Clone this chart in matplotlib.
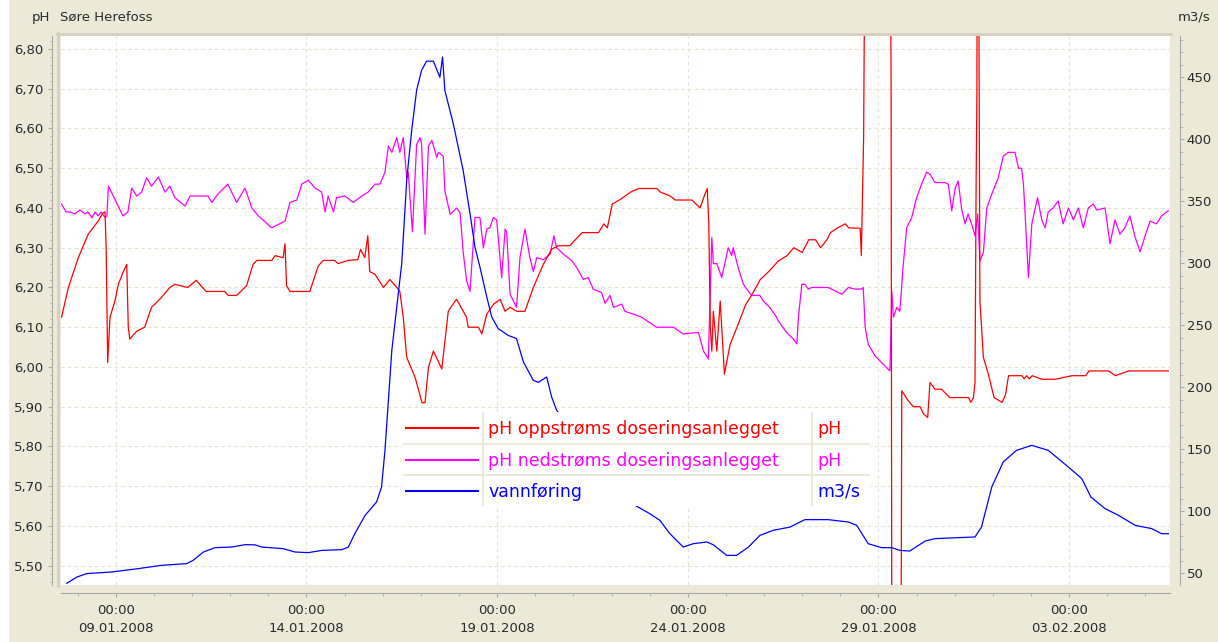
import numpy as np
import pandas as pd
import matplotlib
matplotlib.use('Agg')
import matplotlib.pyplot as plt
import matplotlib.dates as mdates
from matplotlib.ticker import MultipleLocator, FixedLocator, FuncFormatter
from matplotlib.lines import Line2D
from matplotlib.patches import Rectangle

# time axis: days since 09.01.2008 00:00
t0 = pd.Timestamp('2008-01-09 00:00')

# pH oppstrøms doseringsanlegget (left axis, values outside the range are clipped)
opp_day = [-1.42, -1.24, -0.98, -0.72, -0.46, -0.33, -0.28, -0.25, -0.21, -0.15,
           -0.02, 0.07, 0.20, 0.29, 0.33, 0.37, 0.55, 0.76, 0.94, 1.11,
           1.20, 1.42, 1.55, 1.89, 2.11, 2.37, 2.86, 2.95, 3.17, 3.43,
           3.60, 3.70, 4.09, 4.18, 4.39, 4.44, 4.48, 4.57, 5.09, 5.31,
           5.44, 5.74, 5.83, 6.09, 6.35, 6.42, 6.53, 6.61, 6.66, 6.80,
           7.02, 7.19, 7.37, 7.45, 7.54, 7.63, 7.85, 8.03, 8.11, 8.20,
           8.33, 8.55, 8.72, 8.90, 8.94, 9.20, 9.24, 9.51, 9.60, 9.73,
           9.91, 10.08, 10.21, 10.34, 10.52, 10.73, 10.95, 11.21, 11.43, 11.60,
           11.91, 12.05, 12.23, 12.66, 12.80, 12.89, 13.02, 13.24, 13.50, 13.71,
           14.19, 14.28, 14.54, 14.67, 15.11, 15.32, 15.45, 15.51, 15.55, 15.59,
           15.63, 15.67, 15.76, 15.85, 15.89, 15.96, 16.11, 16.29, 16.51, 16.73,
           16.90, 17.12, 17.38, 17.60, 17.78, 18.00, 18.17, 18.35, 18.48, 18.65,
           18.74, 18.91, 19.13, 19.22, 19.52, 19.55, 19.61, 19.65, 20.30, 20.33,
           20.35, 20.59, 20.61, 20.78, 20.91, 21.09, 21.18, 21.29, 21.35, 21.48,
           21.65, 21.87, 22.36, 22.42, 22.49, 22.53, 22.56, 22.58, 22.59, 22.62,
           22.66, 22.75, 22.88, 23.03, 23.24, 23.33, 23.41, 23.76, 23.82, 23.88,
           23.95, 24.03, 24.29, 24.63, 25.07, 25.43, 25.52, 26.04, 26.21, 26.56,
           27.60]
opp_ph = [6.125, 6.20, 6.275, 6.334, 6.367, 6.388, 6.39, 6.30, 6.011, 6.125,
          6.166, 6.208, 6.24, 6.258, 6.10, 6.07, 6.09, 6.10, 6.15, 6.166,
          6.175, 6.20, 6.208, 6.20, 6.218, 6.19, 6.19, 6.18, 6.18, 6.204,
          6.258, 6.268, 6.268, 6.28, 6.275, 6.31, 6.204, 6.19, 6.19, 6.254,
          6.268, 6.268, 6.26, 6.268, 6.27, 6.296, 6.275, 6.33, 6.24, 6.233,
          6.20, 6.22, 6.20, 6.19, 6.125, 6.024, 5.974, 5.91, 5.91, 5.999,
          6.04, 5.995, 6.14, 6.166, 6.17, 6.125, 6.10, 6.10, 6.083, 6.133,
          6.158, 6.17, 6.14, 6.15, 6.14, 6.14, 6.20, 6.258, 6.296, 6.305,
          6.305, 6.32, 6.338, 6.338, 6.36, 6.35, 6.41, 6.422, 6.44, 6.449,
          6.449, 6.44, 6.43, 6.42, 6.42, 6.40, 6.435, 6.449, 6.363, 6.10,
          6.04, 6.14, 6.04, 6.166, 6.10, 5.982, 6.057, 6.10, 6.155, 6.19,
          6.22, 6.24, 6.267, 6.28, 6.30, 6.288, 6.32, 6.32, 6.30, 6.32,
          6.338, 6.349, 6.36, 6.35, 6.349, 6.28, 6.577, 7.20, 7.20, 6.73,
          5.20, 5.20, 5.94, 5.915, 5.90, 5.90, 5.882, 5.873, 5.961, 5.944,
          5.944, 5.923, 5.923, 5.911, 5.923, 5.961, 6.468, 6.686, 7.20, 7.20,
          6.166, 6.024, 5.982, 5.923, 5.911, 5.93, 5.978, 5.978, 5.97, 5.978,
          5.97, 5.978, 5.969, 5.969, 5.978, 5.978, 5.99, 5.99, 5.978, 5.99,
          5.99]

# pH nedstrøms doseringsanlegget (left axis)
ned_day = [-1.42, -1.30, -1.20, -1.07, -0.94, -0.80, -0.73, -0.62, -0.54, -0.46,
           -0.39, -0.28, -0.23, -0.19, 0.19, 0.32, 0.42, 0.55, 0.68, 0.81,
           0.94, 1.12, 1.29, 1.42, 1.55, 1.82, 1.95, 2.42, 2.52, 2.68,
           2.94, 3.17, 3.39, 3.57, 3.74, 3.86, 4.09, 4.44, 4.57, 4.75,
           4.88, 5.05, 5.23, 5.40, 5.49, 5.57, 5.71, 5.79, 6.01, 6.23,
           6.45, 6.62, 6.80, 6.93, 7.06, 7.15, 7.24, 7.37, 7.45, 7.54,
           7.63, 7.67, 7.78, 7.89, 7.98, 8.02, 8.11, 8.20, 8.29, 8.42,
           8.46, 8.59, 8.63, 8.77, 8.94, 9.03, 9.11, 9.20, 9.29, 9.42,
           9.55, 9.64, 9.73, 9.81, 9.90, 9.99, 10.12, 10.21, 10.25, 10.34,
           10.51, 10.60, 10.73, 10.86, 10.95, 11.04, 11.21, 11.39, 11.49, 11.56,
           11.74, 11.96, 12.09, 12.26, 12.39, 12.52, 12.74, 12.83, 12.96, 13.05,
           13.27, 13.35, 13.57, 13.79, 14.18, 14.62, 14.88, 15.28, 15.41, 15.54,
           15.63, 15.67, 15.76, 15.89, 16.06, 16.15, 16.19, 16.32, 16.46, 16.59,
           16.68, 16.89, 16.98, 17.15, 17.33, 17.37, 17.59, 17.77, 17.86, 17.90,
           17.99, 18.07, 18.16, 18.25, 18.68, 19.04, 19.21, 19.38, 19.56, 19.60,
           19.65, 19.73, 19.91, 20.08, 20.30, 20.35, 20.39, 20.48, 20.56, 20.65,
           20.74, 20.87, 21.00, 21.13, 21.26, 21.35, 21.48, 21.74, 21.83, 21.92,
           22.01, 22.09, 22.18, 22.27, 22.35, 22.44, 22.53, 22.60, 22.66, 22.75,
           22.84, 22.97, 23.14, 23.27, 23.40, 23.58, 23.67, 23.75, 23.80, 23.84,
           23.93, 24.02, 24.17, 24.28, 24.37, 24.45, 24.58, 24.71, 24.84, 24.98,
           25.11, 25.24, 25.37, 25.50, 25.63, 25.72, 25.94, 26.07, 26.20, 26.33,
           26.46, 26.59, 26.73, 26.86, 26.99, 27.12, 27.29, 27.42, 27.60]
ned_ph = [6.41, 6.39, 6.39, 6.385, 6.395, 6.385, 6.39, 6.375, 6.39, 6.38,
          6.39, 6.376, 6.38, 6.455, 6.38, 6.39, 6.45, 6.43, 6.44, 6.476,
          6.455, 6.478, 6.44, 6.455, 6.426, 6.405, 6.43, 6.43, 6.414, 6.435,
          6.46, 6.414, 6.45, 6.40, 6.38, 6.37, 6.35, 6.367, 6.414, 6.42,
          6.46, 6.47, 6.45, 6.44, 6.39, 6.43, 6.39, 6.426, 6.43, 6.414,
          6.43, 6.44, 6.46, 6.46, 6.49, 6.556, 6.54, 6.577, 6.54, 6.577,
          6.476, 6.49, 6.34, 6.56, 6.577, 6.56, 6.334, 6.556, 6.57, 6.527,
          6.54, 6.53, 6.443, 6.384, 6.40, 6.388, 6.29, 6.217, 6.19, 6.376,
          6.376, 6.30, 6.347, 6.35, 6.376, 6.37, 6.225, 6.347, 6.34, 6.183,
          6.15, 6.275, 6.347, 6.275, 6.24, 6.275, 6.27, 6.284, 6.33, 6.30,
          6.284, 6.267, 6.25, 6.22, 6.225, 6.196, 6.187, 6.16, 6.18, 6.15,
          6.158, 6.14, 6.133, 6.125, 6.10, 6.10, 6.083, 6.087, 6.04, 6.02,
          6.326, 6.26, 6.26, 6.225, 6.30, 6.28, 6.30, 6.25, 6.208, 6.19,
          6.18, 6.18, 6.166, 6.15, 6.125, 6.116, 6.087, 6.07, 6.058, 6.125,
          6.208, 6.208, 6.196, 6.20, 6.20, 6.183, 6.20, 6.196, 6.196, 6.20,
          6.10, 6.057, 6.028, 6.011, 5.99, 6.19, 6.125, 6.15, 6.14, 6.258,
          6.35, 6.376, 6.426, 6.46, 6.49, 6.485, 6.464, 6.464, 6.46, 6.393,
          6.45, 6.468, 6.397, 6.36, 6.385, 6.36, 6.33, 6.385, 6.267, 6.288,
          6.40, 6.435, 6.476, 6.53, 6.54, 6.54, 6.50, 6.50, 6.46, 6.393,
          6.225, 6.36, 6.426, 6.37, 6.35, 6.39, 6.40, 6.418, 6.36, 6.40,
          6.37, 6.40, 6.35, 6.40, 6.41, 6.395, 6.40, 6.31, 6.37, 6.334,
          6.35, 6.38, 6.326, 6.29, 6.33, 6.367, 6.36, 6.38, 6.393]

# vannføring, m3/s (right axis)
flow_day = [-1.28, -1.02, -0.76, -0.10, 0.59, 1.21, 1.86, 2.03, 2.30, 2.60,
            3.04, 3.39, 3.65, 3.83, 4.39, 4.70, 5.05, 5.40, 5.93, 6.10,
            6.27, 6.54, 6.84, 6.97, 7.06, 7.15, 7.24, 7.37, 7.50, 7.63,
            7.76, 7.89, 8.02, 8.15, 8.33, 8.50, 8.57, 8.63, 8.85, 9.11,
            9.29, 9.42, 9.55, 9.73, 9.86, 10.03, 10.29, 10.51, 10.69, 10.95,
            11.08, 11.30, 11.43, 11.56, 12.70, 13.62, 14.01, 14.27, 14.53, 14.88,
            15.14, 15.50, 15.67, 16.02, 16.28, 16.59, 16.89, 17.24, 17.68, 18.07,
            18.68, 19.21, 19.43, 19.73, 20.08, 20.35, 20.56, 20.82, 21.22, 21.48,
            22.09, 22.53, 22.70, 22.97, 23.27, 23.62, 24.02, 24.45, 24.98, 25.33,
            25.57, 25.94, 26.29, 26.73, 27.16, 27.42, 27.60]
flow_m3s = [42, 47, 49.8, 51.1, 53.8, 56.5, 57.8, 60.5, 67.2, 70.7,
            71.2, 73.1, 73, 71.2, 69.9, 67.2, 66.7, 68.5, 69.1, 71.2,
            82, 96.8, 107.5, 119.6, 149, 189.5, 229.8, 265, 299.8, 367,
            407, 439.5, 455.6, 463, 463, 450, 466.4, 439.5, 412.7, 375,
            340, 313, 297, 272.8, 256.7, 247.3, 241.9, 239.3, 220.4, 205.6,
            204, 208.3, 192.2, 181.5, 140, 104.8, 98, 92.7, 82, 71.2,
            73.9, 75.3, 73, 64.5, 64.5, 71.2, 80.6, 84.7, 87.3, 93.3,
            93.3, 91.4, 88.7, 73.9, 70.7, 70.7, 68.5, 68, 76, 78,
            78.8, 79.3, 87.3, 119.6, 139.8, 149.2, 153.2, 149.2, 135.7, 126.4,
            111.5, 102.2, 96.8, 88.7, 86.1, 82, 82]

tick_dates = ['2008-01-09', '2008-01-14', '2008-01-19', '2008-01-24', '2008-01-29', '2008-02-03']
x_range_days = (-1.434, 27.643)

series_names = ['pH oppstrøms doseringsanlegget', 'pH nedstrøms doseringsanlegget', 'vannføring']
series_units = ['pH', 'pH', 'm3/s']
series_colors = ['#ff0000', '#ff00ff', '#0000ff']


def to_time(days):
    return (t0 + pd.to_timedelta(np.asarray(days, dtype=float), unit='D')).to_numpy()


BG = '#ece9d8'
GRID = '#e4e0cc'
AXC = '#a8a8a8'
FRAME = '#d3d0c0'

W, H = 1218, 642
fig = plt.figure(figsize=(W / 100, H / 100), dpi=100, facecolor=BG)
fig.add_artist(Rectangle((0, 0), 8 / W, 1, transform=fig.transFigure, color='white', zorder=0))

ax = fig.add_axes([61 / W, 1 - 585 / H, 1109 / W, 549 / H])
ax.set_facecolor('white')
ax2 = ax.twinx()

ax.plot(to_time(ned_day), ned_ph, color=series_colors[1], lw=0.9)
ax.plot(to_time(opp_day), opp_ph, color=series_colors[0], lw=0.9)
ax2.plot(to_time(flow_day), flow_m3s, color=series_colors[2], lw=0.9)

ax.set_xlim(to_time([x_range_days[0]])[0], to_time([x_range_days[1]])[0])
ax.set_ylim(5.4514, 6.8327)
ax2.set_ylim(40.6, 483.3)

# x axis
ax.xaxis.set_major_locator(FixedLocator(mdates.date2num(pd.to_datetime(tick_dates).to_pydatetime())))
ax.xaxis.set_minor_locator(mdates.DayLocator())
ax.xaxis.set_major_formatter(mdates.DateFormatter('%H:%M\n%d.%m.%Y'))

# left axis
ax.yaxis.set_major_locator(MultipleLocator(0.1))
ax.yaxis.set_minor_locator(MultipleLocator(0.02))
ax.yaxis.set_major_formatter(FuncFormatter(lambda v, p: f'{v:.2f}'.replace('.', ',')))

# right axis
ax2.yaxis.set_major_locator(MultipleLocator(50))
ax2.yaxis.set_minor_locator(MultipleLocator(10))
ax2.yaxis.set_major_formatter(FuncFormatter(lambda v, p: f'{v:.0f}'))

for s in ['top', 'right']:
    ax.spines[s].set_visible(False)
for s in ['top', 'left', 'bottom']:
    ax2.spines[s].set_visible(False)
ax.spines['left'].set_position(('outward', 6.5))
ax.spines['bottom'].set_position(('outward', 6))
ax2.spines['right'].set_position(('outward', 7))
for sp in [ax.spines['left'], ax.spines['bottom'], ax2.spines['right']]:
    sp.set_color(AXC)
    sp.set_linewidth(0.8)

ax.tick_params(axis='both', which='major', direction='out', length=3, width=0.8,
               color=AXC, labelsize=9.5, labelcolor='#2a2a2a')
ax.tick_params(axis='both', which='minor', direction='out', length=1.8, width=0.6, color=AXC)
ax.tick_params(axis='y', pad=3)
ax.tick_params(axis='x', pad=5)
ax2.tick_params(axis='y', which='major', direction='out', length=3, width=0.8,
                color=AXC, labelsize=9.5, labelcolor='#2a2a2a', pad=2)
ax2.tick_params(axis='y', which='minor', direction='out', length=1.8, width=0.6, color=AXC)
for tick in ax.xaxis.get_major_ticks():
    tick.label1.set_linespacing(1.45)

ax.grid(True, which='major', color=GRID, lw=0.8, ls=(0, (3, 3)))
ax.set_axisbelow(True)

# sunken frame of the plot area
fig.add_artist(Line2D([58 / W, 58 / W], [1 - 586 / H, 1 - 33 / H], transform=fig.transFigure,
                      color=FRAME, lw=2))
fig.add_artist(Line2D([57 / W, 1171 / W], [1 - 34 / H, 1 - 34 / H], transform=fig.transFigure,
                      color=FRAME, lw=2))

# header texts
fig.text(50 / W, 1 - 17 / H, 'pH', ha='right', va='center', fontsize=9.5, color='#2a2a2a')
fig.text(60 / W, 1 - 17 / H, 'Søre Herefoss', ha='left', va='center', fontsize=9.5, color='#2a2a2a')
fig.text(1178 / W, 1 - 17 / H, 'm3/s', ha='left', va='center', fontsize=9.5, color='#2a2a2a')

# legend table
lg = fig.add_axes([403 / W, 1 - 506 / H, 467 / W, 94 / H], zorder=5)
lg.set_xlim(403, 870)
lg.set_ylim(506, 412)
lg.set_facecolor('white')
lg.axis('off')
lg.add_patch(Rectangle((403, 412), 467, 94, facecolor='white', edgecolor='none'))
row_y = [427.7, 459.5, 491]
for i, name in enumerate(series_names):
    lg.plot([406, 478], [row_y[i], row_y[i]], color=series_colors[i], lw=1.5)
    lg.text(488, row_y[i] + 1, name, color=series_colors[i], fontsize=12.5, va='center', ha='left')
    lg.text(817, row_y[i] + 1, series_units[i], color=series_colors[i], fontsize=12.5, va='center', ha='left')
for yy in [443.5, 475.2]:
    lg.plot([403, 870], [yy, yy], color=BG, lw=1.5)
for xx in [483, 812]:
    lg.plot([xx, xx], [412, 506], color=BG, lw=1.5)

fig.savefig('out.png', dpi=100, facecolor=BG)
